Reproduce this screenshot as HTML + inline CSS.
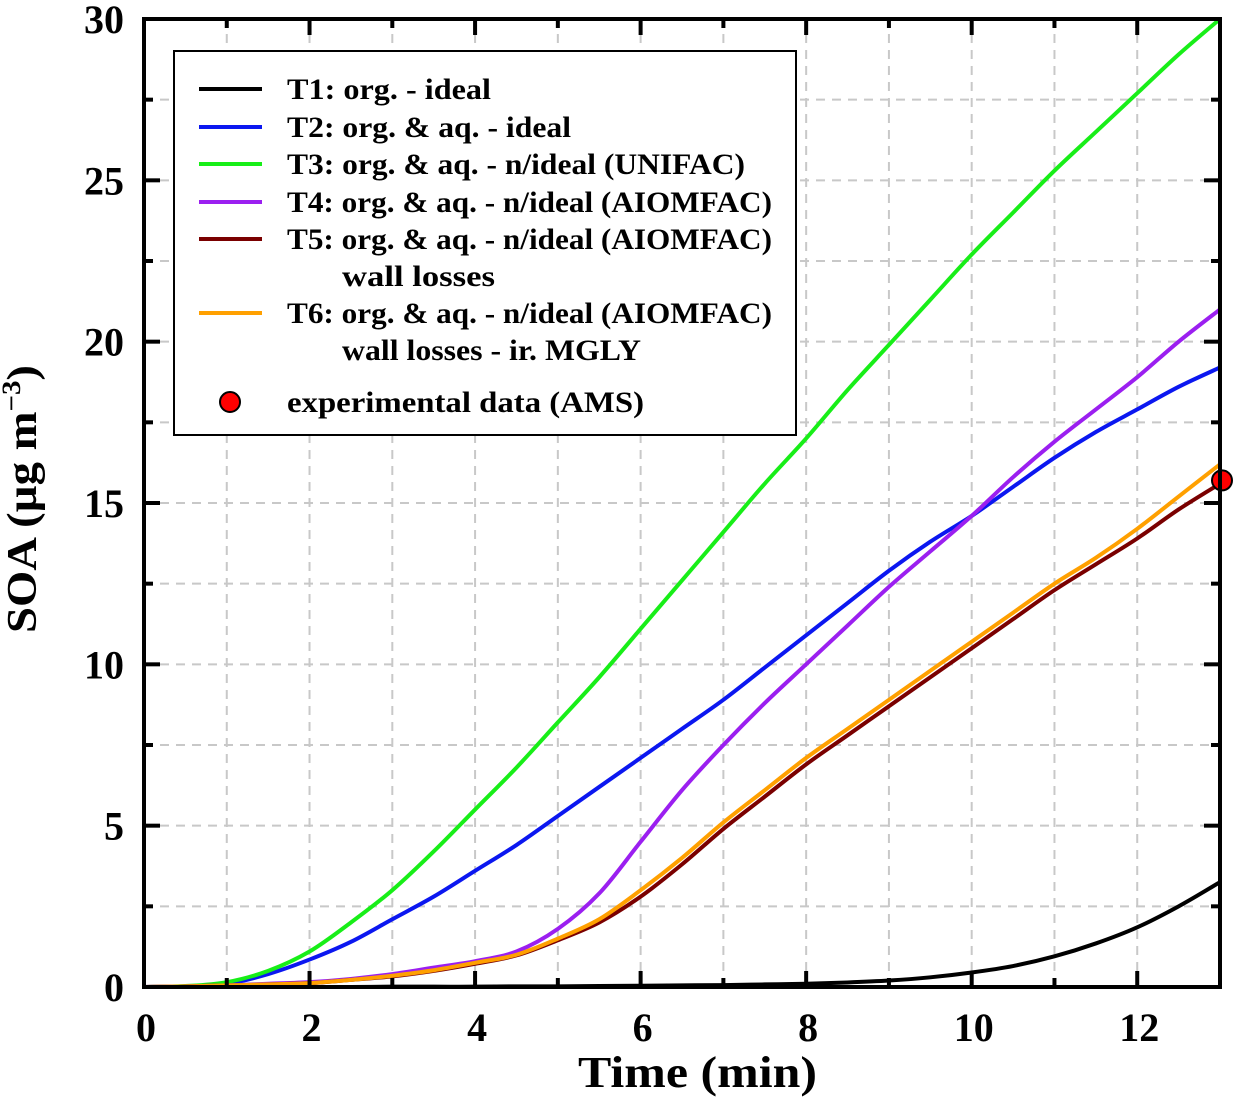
<!DOCTYPE html>
<html><head><meta charset="utf-8"><style>
body{margin:0;background:#fff}
text{font-family:"Liberation Serif",serif;font-weight:bold}
</style></head><body>
<svg id="chart" width="1235" height="1097" viewBox="0 0 1235 1097" xmlns="http://www.w3.org/2000/svg">
<g id="grid"></g>
<g id="series"></g>
<g id="axes"></g>
<text x="578" y="1087" font-size="44" textLength="239" lengthAdjust="spacingAndGlyphs">Time (min)</text>
<text transform="translate(36,633) rotate(-90)" font-size="42" textLength="268" lengthAdjust="spacingAndGlyphs">SOA (µg m<tspan font-size="26" dy="-16">−3</tspan><tspan dy="16">)</tspan></text>
<g>
<rect x="174" y="51" width="622" height="384" fill="#fff" stroke="#000" stroke-width="2"/>
<g id="legend-items"></g>
</g>
</svg>
<script>
const xs=[0,0.5,1,1.5,2,2.5,3,3.5,4,4.5,5,5.5,6,6.5,7,7.5,8,8.5,9,9.5,10,10.5,11,11.5,12,12.5,13];
const t1=[0,0,0,0,0,0,0.01,0.01,0.01,0.02,0.02,0.03,0.04,0.05,0.06,0.08,0.1,0.14,0.2,0.3,0.45,0.65,0.95,1.35,1.85,2.5,3.25];
const t2=[0,0.02,0.1,0.4,0.85,1.4,2.1,2.8,3.6,4.4,5.3,6.2,7.1,8,8.9,9.9,10.9,11.9,12.9,13.8,14.6,15.5,16.4,17.2,17.9,18.6,19.2];
const t3=[0,0.03,0.15,0.5,1.1,2,3,4.2,5.5,6.8,8.2,9.6,11.1,12.6,14.1,15.6,17,18.5,19.9,21.3,22.7,24,25.3,26.5,27.7,28.9,30];
const t4=[0,0.02,0.05,0.1,0.15,0.25,0.4,0.6,0.8,1.1,1.8,2.9,4.5,6.1,7.5,8.8,10.0,11.2,12.4,13.5,14.6,15.8,16.9,17.9,18.9,20.0,21.0];
const t5=[0,0.02,0.05,0.08,0.12,0.22,0.33,0.5,0.72,0.98,1.45,2.0,2.8,3.8,4.9,5.9,6.9,7.8,8.7,9.6,10.5,11.4,12.3,13.1,13.9,14.8,15.6];
const t6=[0,0.02,0.05,0.08,0.12,0.22,0.35,0.52,0.75,1.0,1.5,2.1,3.0,4.0,5.1,6.1,7.1,8.0,8.9,9.8,10.7,11.6,12.5,13.3,14.2,15.2,16.2];
const expX=[13], expY=[15.7];
const xTicks=[0,2,4,6,8,10,12];
const yTicks=[0,5,10,15,20,25,30];
const names=["t1-ideal","t2-org-aq-ideal","t3-unifac","t4-aiomfac","t5-wall-losses","t6-ir-mgly"];
const colors=["#000","#0b17f0","#18ee18","#9b1ff0","#7a0000","#ffa000"];
const series=[t1,t2,t3,t4,t5,t6];
const X0=144,X1=1220,Y0=987,Y1=19;
const sx=v=>X0+(X1-X0)*v/13, sy=v=>Y0-(Y0-Y1)*v/30;
const NS="http://www.w3.org/2000/svg";
function mk(tag,attrs,parent){const e=document.createElementNS(NS,tag);for(const k in attrs)e.setAttribute(k,attrs[k]);parent.appendChild(e);return e;}
function smooth(s){let pts=s.map((v,j)=>[sx(xs[j]),sy(v)]);let d='M'+pts[0][0]+','+pts[0][1];
for(let i=0;i<pts.length-1;i++){const p0=pts[Math.max(i-1,0)],p1=pts[i],p2=pts[i+1],p3=pts[Math.min(i+2,pts.length-1)];
d+=` C${p1[0]+(p2[0]-p0[0])/6},${p1[1]+(p2[1]-p0[1])/6} ${p2[0]-(p3[0]-p1[0])/6},${p2[1]-(p3[1]-p1[1])/6} ${p2[0]},${p2[1]}`;}return d;}
const grid=document.getElementById('grid'),axes=document.getElementById('axes'),ser=document.getElementById('series');
for(let i=1;i<13;i++){const l=mk('line',{x1:sx(i),x2:sx(i),y1:Y0,y2:Y1,stroke:'#c8c8c8','stroke-width':2,'stroke-dasharray':'9,7'},grid);

}
for(let v=2.5;v<30;v+=2.5){const l=mk('line',{x1:X0,x2:X1,y1:sy(v),y2:sy(v),stroke:'#c8c8c8','stroke-width':2,'stroke-dasharray':'9,7'},grid);

}
series.forEach((s,i)=>{const p=mk('path',{d:smooth(s),fill:'none',stroke:colors[i],'stroke-width':4,'stroke-linejoin':'round'},ser);

});
expX.forEach((v,i)=>{const c=mk('circle',{cx:sx(v)+2,cy:sy(expY[i]),r:10,fill:'#f00',stroke:'#000','stroke-width':2},ser);

});
const fr=mk('rect',{x:X0,y:Y1,width:X1-X0,height:Y0-Y1,fill:'none',stroke:'#000','stroke-width':4},axes);


for(let i=0;i<=13;i++){const L=i%2?9:16;
mk('line',{x1:sx(i),x2:sx(i),y1:Y0,y2:Y0-L,stroke:'#000','stroke-width':4},axes);
mk('line',{x1:sx(i),x2:sx(i),y1:Y1,y2:Y1+L,stroke:'#000','stroke-width':4},axes);}
for(let v=0;v<=30;v+=2.5){const L=(v%5)?9:16;
mk('line',{x1:X0,x2:X0+L,y1:sy(v),y2:sy(v),stroke:'#000','stroke-width':4},axes);
mk('line',{x1:X1,x2:X1-L,y1:sy(v),y2:sy(v),stroke:'#000','stroke-width':4},axes);}
xTicks.forEach(v=>{const t=mk('text',{x:sx(v)+2,y:1041,'font-size':40,'text-anchor':'middle'},axes);t.textContent=v;

});
yTicks.forEach(v=>{const t=mk('text',{x:124,y:sy(v)+14,'font-size':40,'text-anchor':'end'},axes);t.textContent=v;

});
const leg=document.getElementById('legend-items');
const labels=[["T1: org. - ideal"],["T2: org. & aq. - ideal"],["T3: org. & aq. - n/ideal (UNIFAC)"],["T4: org. & aq. - n/ideal (AIOMFAC)"],["T5: org. & aq. - n/ideal (AIOMFAC)","wall losses"],["T6: org. & aq. - n/ideal (AIOMFAC)","wall losses - ir. MGLY"]];
const lens=[[204],[284],[458],[485],[485,153],[485,299]];
const ly=[89,127,164,202,239,313];
labels.forEach((lb,i)=>{
const l=mk('line',{x1:199,x2:262,y1:ly[i],y2:ly[i],stroke:colors[i],'stroke-width':4},leg);


const t=mk('text',{x:287,y:ly[i]+10,'font-size':30,textLength:lens[i][0],lengthAdjust:'spacingAndGlyphs'},leg);t.textContent=lb[0];


if(lb[1]){const t2=mk('text',{x:342,y:ly[i]+47,'font-size':30,textLength:lens[i][1],lengthAdjust:'spacingAndGlyphs'},leg);t2.textContent=lb[1];

}
});
const c=mk('circle',{cx:230,cy:402,r:10,fill:'#f00',stroke:'#000','stroke-width':2},leg);


const te=mk('text',{x:287,y:412,'font-size':30,textLength:357,lengthAdjust:'spacingAndGlyphs'},leg);te.textContent="experimental data (AMS)";


</script>
</body></html>
